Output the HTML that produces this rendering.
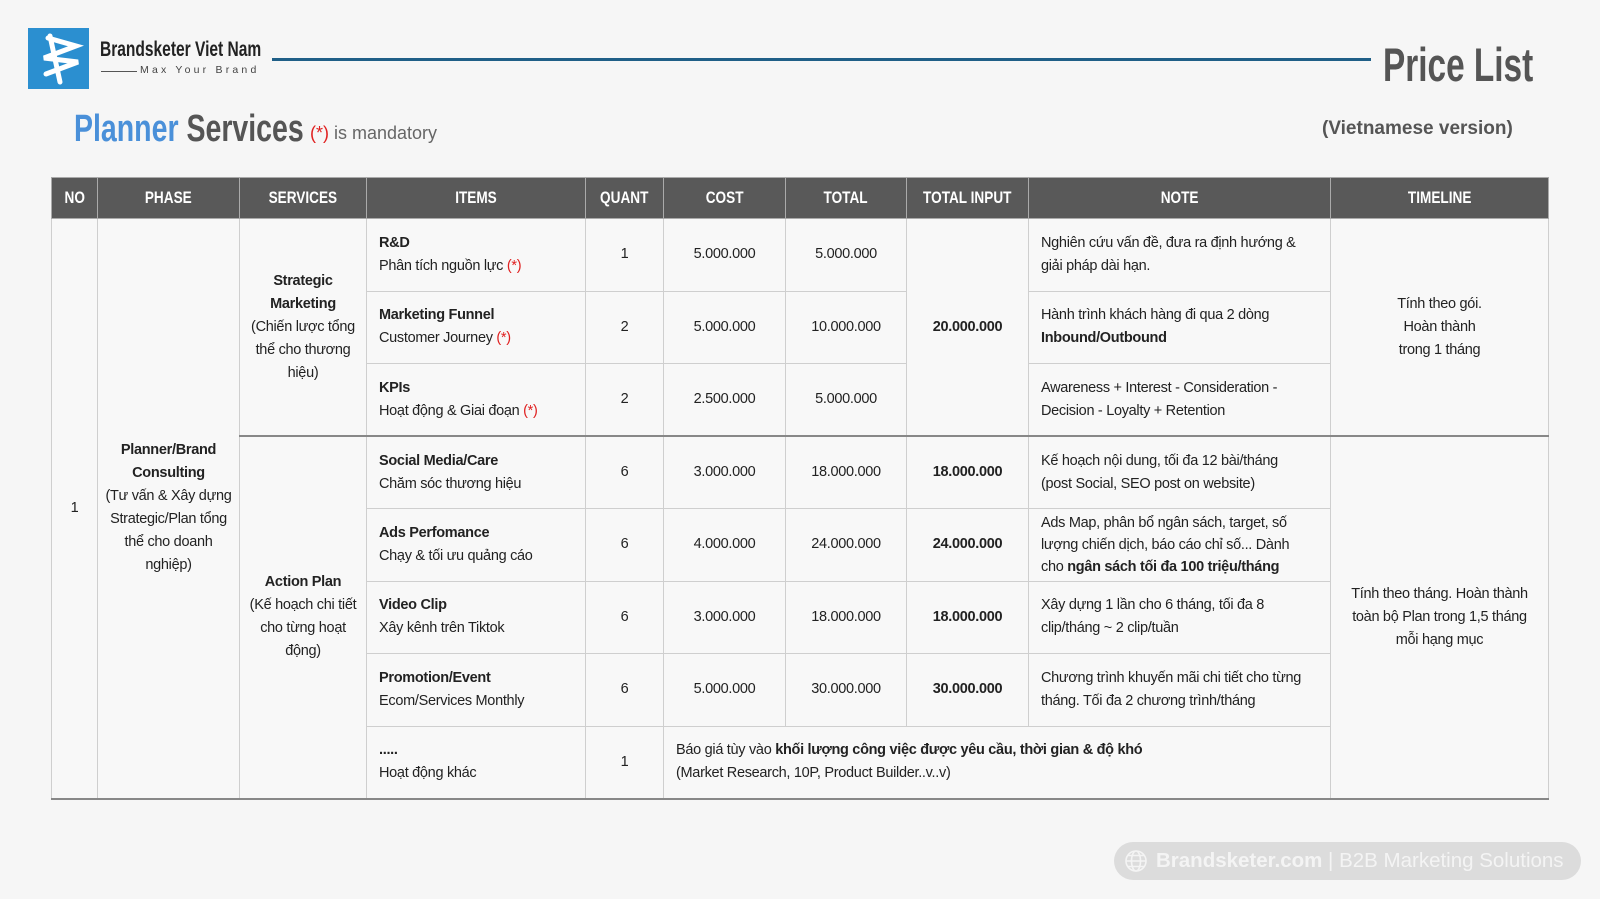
<!DOCTYPE html>
<html><head><meta charset="utf-8">
<style>
*{margin:0;padding:0;box-sizing:border-box}
body{width:1600px;height:899px;background:#f6f6f6;font-family:"Liberation Sans","DejaVu Sans",sans-serif;position:relative;overflow:hidden;color:#222}
.abs{position:absolute}
.cond{display:inline-block;transform:scaleX(.78);transform-origin:left center;font-weight:bold;white-space:nowrap}
table{position:absolute;left:51px;top:177px;width:1497px;border-collapse:collapse;table-layout:fixed;font-size:14.5px;line-height:23px;letter-spacing:-0.3px;border-bottom:2px solid #888;border-left:1px solid #bbb;border-right:1px solid #bbb}
td,th{border:1px solid #cfcfcf;padding:0 6px}
th{background:#595959;color:#fff;height:41px;font-weight:bold;border-color:#aaa;white-space:nowrap;overflow:hidden;padding:0}
th span{display:inline-block;transform:scaleX(.8);font-size:17px;letter-spacing:0}
td{height:72.5px;background:#f8f8f8}
.c{text-align:center}
.l{text-align:left;padding-left:12px}
.r{color:#e02020}
.thick td{border-top:2px solid #888}
tr:last-child td{border-bottom:2px solid #888}
</style></head><body>
<div class="abs" style="left:28px;top:28px;width:61px;height:61px;background:#2b8fd0">
<svg width="61" height="61" viewBox="0 0 61 61"><g stroke="#fff" stroke-width="5" stroke-linecap="round" fill="none"><path d="M20 10 L48 18 L16 30 L50 34 L18 46"/><path d="M22 8 L32 54"/></g></svg></div>
<div class="abs" style="left:100px;top:38px;font-size:21px"><span class="cond" style="transform:scaleX(.74)">Brandsketer Viet Nam</span></div>
<div class="abs" style="left:101px;top:71px;width:36px;height:1px;background:#555"></div>
<div class="abs" style="left:140px;top:64px;font-size:10.5px;letter-spacing:3.2px;color:#444">Max Your Brand</div>
<div class="abs" style="left:272px;top:58px;width:1099px;height:3px;background:#1f5f87"></div>
<div class="abs" style="left:1383px;top:37px;font-size:47px;color:#555"><span class="cond" style="transform:scaleX(.71)">Price List</span></div>
<div class="abs" style="left:74px;top:108px;font-size:38px"><span class="cond" style="transform:scaleX(.75)"><span style="color:#4a90d9">Planner</span> <span style="color:#555">Services</span></span></div>
<div class="abs" style="left:310px;top:123px;font-size:18px;color:#666"><span class="r">(*)</span> is mandatory</div>
<div class="abs" style="left:1322px;top:118px;font-size:19px;color:#555;font-weight:bold">(Vietnamese version)</div>
<table>
<colgroup><col style="width:46px"><col style="width:142px"><col style="width:127px"><col style="width:219px"><col style="width:78px"><col style="width:122px"><col style="width:121px"><col style="width:122px"><col style="width:302px"><col style="width:218px"></colgroup>
<tr><th><span>NO</span></th><th><span>PHASE</span></th><th><span>SERVICES</span></th><th><span>ITEMS</span></th><th><span>QUANT</span></th><th><span>COST</span></th><th><span>TOTAL</span></th><th><span>TOTAL INPUT</span></th><th><span>NOTE</span></th><th><span>TIMELINE</span></th></tr>
<tr><td class="c" rowspan="8">1</td><td class="c" rowspan="8" style="padding:0 3px"><b>Planner/Brand Consulting</b><br>(Tư vấn &amp; Xây dựng Strategic/Plan tổng thể cho doanh nghiệp)</td>
<td class="c" rowspan="3" style="padding:0 3px"><b>Strategic Marketing</b><br>(Chiến lược tổng thể cho thương hiệu)</td>
<td class="l"><b>R&amp;D</b><br>Phân tích nguồn lực <span class="r">(*)</span></td><td class="c">1</td><td class="c">5.000.000</td><td class="c">5.000.000</td><td class="c" rowspan="3"><b>20.000.000</b></td><td class="l">Nghiên cứu vấn đề, đưa ra định hướng &amp;<br>giải pháp dài hạn.</td><td class="c" rowspan="3">Tính theo gói.<br>Hoàn thành<br>trong 1 tháng</td></tr>
<tr><td class="l"><b>Marketing Funnel</b><br>Customer Journey <span class="r">(*)</span></td><td class="c">2</td><td class="c">5.000.000</td><td class="c">10.000.000</td><td class="l">Hành trình khách hàng đi qua 2 dòng<br><b>Inbound/Outbound</b></td></tr>
<tr><td class="l"><b>KPIs</b><br>Hoạt động &amp; Giai đoạn <span class="r">(*)</span></td><td class="c">2</td><td class="c">2.500.000</td><td class="c">5.000.000</td><td class="l">Awareness + Interest - Consideration -<br>Decision - Loyalty + Retention</td></tr>
<tr class="thick"><td class="c" rowspan="5" style="padding:0 3px"><b>Action Plan</b><br>(Kế hoạch chi tiết cho từng hoạt động)</td><td class="l"><b>Social Media/Care</b><br>Chăm sóc thương hiệu</td><td class="c">6</td><td class="c">3.000.000</td><td class="c">18.000.000</td><td class="c"><b>18.000.000</b></td><td class="l">Kế hoạch nội dung, tối đa 12 bài/tháng<br>(post Social, SEO post on website)</td><td class="c" rowspan="5">Tính theo tháng. Hoàn thành<br>toàn bộ Plan trong 1,5 tháng<br>mỗi hạng mục</td></tr>
<tr><td class="l"><b>Ads Perfomance</b><br>Chạy &amp; tối ưu quảng cáo</td><td class="c">6</td><td class="c">4.000.000</td><td class="c">24.000.000</td><td class="c"><b>24.000.000</b></td><td class="l" style="line-height:22px">Ads Map, phân bổ ngân sách, target, số<br>lượng chiến dịch, báo cáo chỉ số... Dành<br>cho <b>ngân sách tối đa 100 triệu/tháng</b></td></tr>
<tr><td class="l"><b>Video Clip</b><br>Xây kênh trên Tiktok</td><td class="c">6</td><td class="c">3.000.000</td><td class="c">18.000.000</td><td class="c"><b>18.000.000</b></td><td class="l">Xây dựng 1 lần cho 6 tháng, tối đa 8<br>clip/tháng ~ 2 clip/tuần</td></tr>
<tr><td class="l"><b>Promotion/Event</b><br>Ecom/Services Monthly</td><td class="c">6</td><td class="c">5.000.000</td><td class="c">30.000.000</td><td class="c"><b>30.000.000</b></td><td class="l">Chương trình khuyến mãi chi tiết cho từng<br>tháng. Tối đa 2 chương trình/tháng</td></tr>
<tr><td class="l"><b>.....</b><br>Hoạt động khác</td><td class="c">1</td><td class="l" colspan="4">Báo giá tùy vào <b>khối lượng công việc được yêu cầu, thời gian &amp; độ khó</b><br>(Market Research, 10P, Product Builder..v..v)</td></tr>
</table>
<div class="abs" style="left:1114px;top:842px;width:467px;height:38px;border-radius:19px;background:#dcdcdc;color:#f4f4f4;font-size:20.5px;line-height:38px;padding-left:42px;white-space:nowrap">
<svg class="abs" style="left:10px;top:7px" width="24" height="24" viewBox="0 0 24 24" fill="none" stroke="#f4f4f4" stroke-width="1.6"><circle cx="12" cy="12" r="10"/><ellipse cx="12" cy="12" rx="4.5" ry="10"/><path d="M2 12h20M4 6.5h16M4 17.5h16"/></svg>
<b>Brandsketer.com</b> | B2B Marketing Solutions</div>
</body></html>
